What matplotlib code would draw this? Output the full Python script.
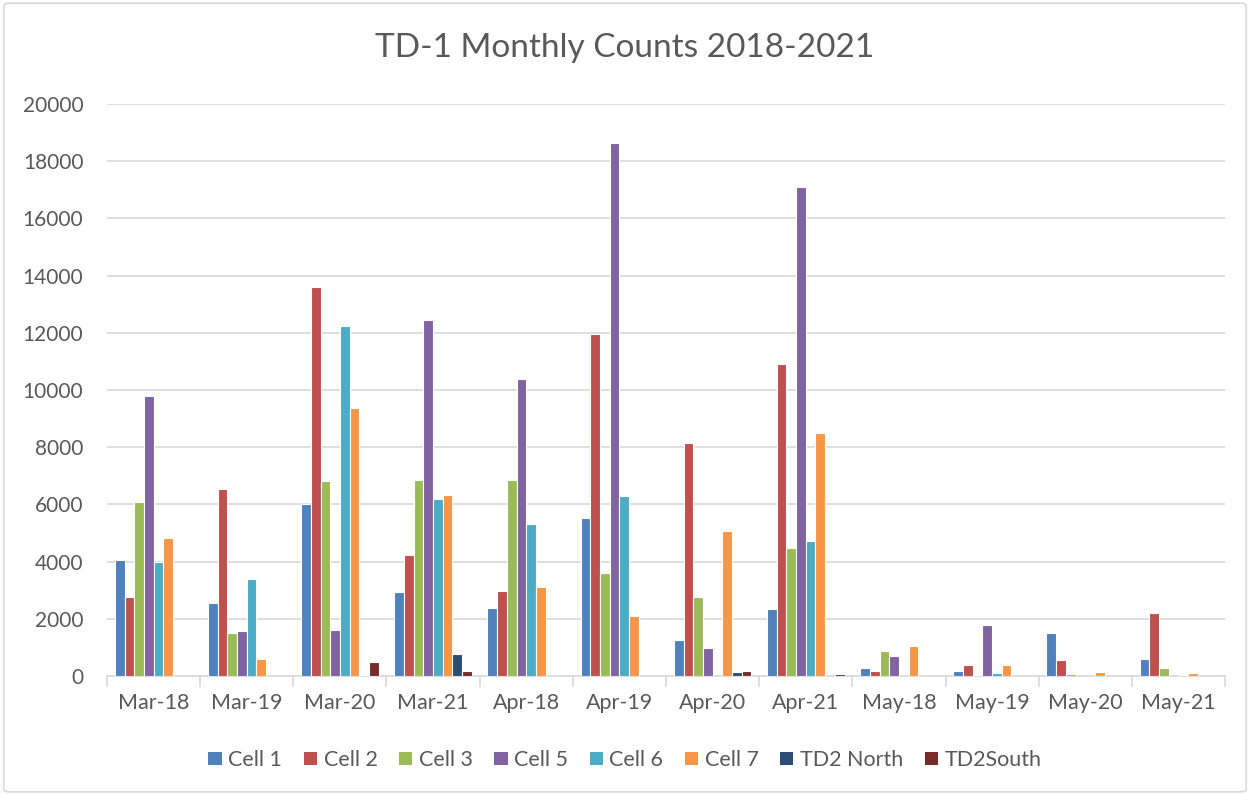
import matplotlib
matplotlib.use("Agg")
import matplotlib.pyplot as plt
import numpy as np
from matplotlib.patches import FancyBboxPatch

categories = ["Mar-18", "Mar-19", "Mar-20", "Mar-21", "Apr-18", "Apr-19",
              "Apr-20", "Apr-21", "May-18", "May-19", "May-20", "May-21"]
series_names = ["Cell 1", "Cell 2", "Cell 3", "Cell 5", "Cell 6", "Cell 7",
                "TD2 North", "TD2South"]
cell1 = [4060, 2560, 6020, 2950, 2390, 5530, 1270, 2350, 290, 190, 1510, 610]
cell2 = [2770, 6550, 13610, 4240, 2980, 11960, 8160, 10920, 160, 390, 550, 2210]
cell3 = [6100, 1510, 6800, 6840, 6850, 3610, 2770, 4490, 860, 40, 60, 270]
cell5 = [9800, 1580, 1610, 12460, 10390, 18650, 990, 17110, 700, 1790, 0, 0]
cell6 = [4000, 3400, 12250, 6200, 5330, 6300, 0, 4730, 0, 110, 0, 40]
cell7 = [4835, 600, 9380, 6310, 3120, 2110, 5080, 8510, 1050, 380, 130, 120]
td2_north = [0, 0, 20, 780, 0, 0, 140, 0, 0, 0, 0, 0]
td2_south = [0, 0, 480, 180, 0, 0, 190, 60, 0, 0, 0, 0]
series_values = [cell1, cell2, cell3, cell5, cell6, cell7, td2_north, td2_south]
colors = ["#4F81BD", "#C0504D", "#9BBB59", "#8064A2", "#4BACC6", "#F79646",
          "#2C4D75", "#772C2A"]

plt.rcParams['font.family'] = ['Lato', 'DejaVu Sans']

fig = plt.figure(figsize=(12.5, 7.95), dpi=100)
ax = fig.add_axes([0.0856, 0.1497, 0.8944, 0.7196])

n = len(series_names)
x = np.arange(len(categories))
slot = 0.104
for i, (name, vals, c) in enumerate(zip(series_names, series_values, colors)):
    offs = (i - (n - 1) / 2) * slot
    ax.bar(x + offs, vals, width=slot, color=c, edgecolor="white",
           linewidth=0.8, label=name, zorder=3)

ax.set_xlim(-0.5, len(categories) - 0.5)
ax.set_ylim(0, 20000)
ax.set_yticks(np.arange(0, 20001, 2000))
ax.yaxis.grid(True, color="#D9D9D9", linewidth=1.2, zorder=0)
ax.set_axisbelow(True)
for s in ["top", "right", "left"]:
    ax.spines[s].set_visible(False)
ax.spines["bottom"].set_color("#D9D9D9")
ax.spines["bottom"].set_linewidth(1.2)
ax.tick_params(axis="y", length=0, labelsize=15, labelcolor="#595959", pad=17)
ax.set_xticks(x)
ax.set_xticklabels(categories)
ax.tick_params(axis="x", length=0, labelsize=15.5, labelcolor="#595959", pad=12)
ax.set_xticks(np.arange(-0.5, len(categories) + 0.5, 1), minor=True)
ax.tick_params(axis="x", which="minor", length=8, color="#D9D9D9", width=1.2)

fig.text(0.5, 0.94, "TD-1 Monthly Counts 2018-2021", ha="center", va="center",
         fontsize=24, color="#595959")

leg = fig.legend(loc="center", bbox_to_anchor=(0.5, 0.044), ncol=8,
                 frameon=False, fontsize=15.5, handlelength=0.62, handleheight=0.5,
                 handletextpad=0.3, columnspacing=1.0)
for t in leg.get_texts():
    t.set_color("#595959")
for h in leg.legend_handles:
    h.set_edgecolor("none")

border = FancyBboxPatch((0.003, 0.004), 0.994, 0.992,
                        boxstyle="round,pad=0,rounding_size=0.004",
                        transform=fig.transFigure, fill=False,
                        edgecolor="#D9D9D9", linewidth=1.2)
fig.patches.append(border)

fig.savefig("out.png", dpi=100)
